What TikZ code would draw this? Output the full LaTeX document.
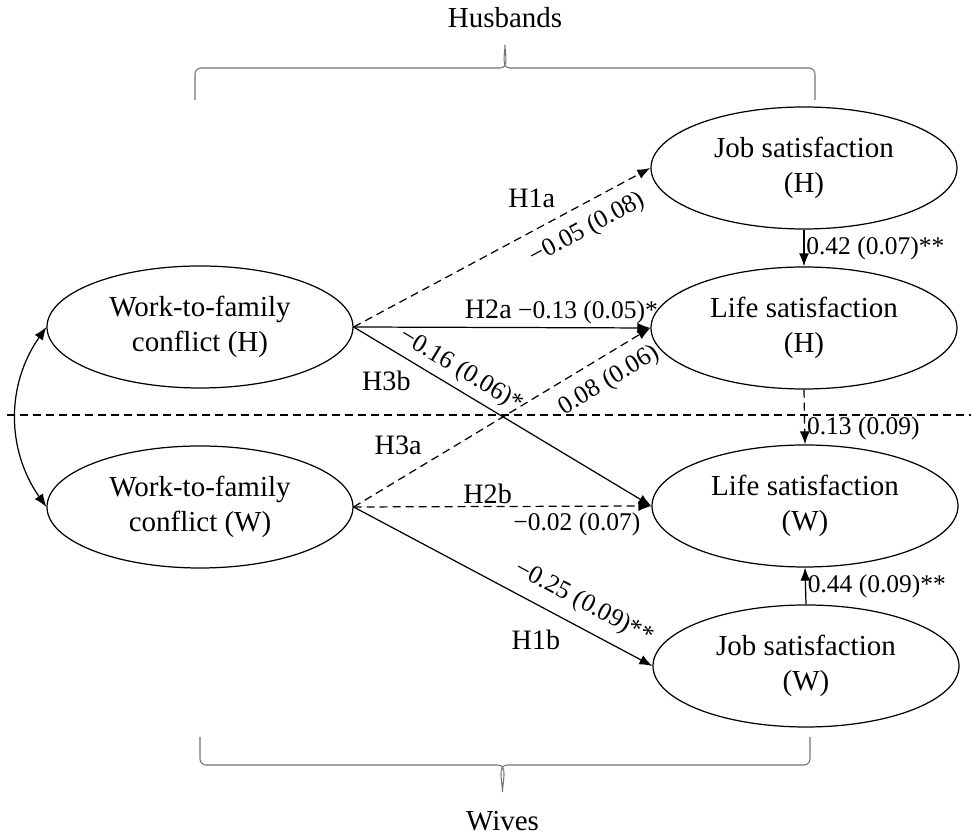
\documentclass[tikz,border=0pt]{standalone}
\usepackage{fontspec}
\setmainfont{Liberation Serif}
\usetikzlibrary{shapes.geometric,arrows.meta}
\begin{document}
\begin{tikzpicture}[>={Latex[length=2.6mm,width=2mm]}, line width=0.7pt, font=\fontsize{16.5}{20}\selectfont]
      \tikzset{latent/.style={draw, ellipse, minimum width=6.12cm, minimum height=2.44cm, inner sep=0pt, align=center},
        coef/.style={font=\fontsize{14.5}{17}\selectfont},
        hyp/.style={font=\fontsize{16}{19}\selectfont},
        dashline/.style={dash pattern=on 1.6mm off 1mm},
        brace/.style={draw=black!55, line width=0.6pt}}
      \useasboundingbox (0,0) rectangle (19.42,16.78);
      \node[latent] (wfcH) at (4.0,10.24) {Work-to-family\\conflict (H)};
      \node[latent] (wfcW) at (4.0,6.64) {Work-to-family\\conflict (W)};
      \node[latent] (jobH) at (16.08,13.42) {Job satisfaction\\(H)};
      \node[latent] (lifeH) at (16.08,10.22) {Life satisfaction\\(H)};
      \node[latent] (lifeW) at (16.1,6.66) {Life satisfaction\\(W)};
      \node[latent] (jobW) at (16.12,3.46) {Job satisfaction\\(W)};
      \node (husb) at (10.1,16.42) {Husbands};
      \node (wives) at (10.05,0.36) {Wives};
      \coordinate (sepL) at (0.14,8.48);
      \coordinate (sepR) at (19.42,8.48);
      \draw[dashline] (sepL) -- (sepR);
      \draw[<->] (wfcH.west) to[bend right=35] (wfcW.west);
      \draw[->, dashline] (wfcH.east) -- (jobH.west)
        node[hyp, pos=0.6, above=0.35cm] {H1a}
        node[coef, pos=0.75, sloped, below=0.12cm] {−0.05 (0.08)};
      \draw[->] (wfcH.east) -- (lifeH.west)
        node[coef, pos=0.7, above, inner sep=2pt] {{\fontsize{16}{19}\selectfont H2a} −0.13 (0.05)*};
      \draw[->] (wfcH.east) -- (lifeW.west)
        node[coef, pos=0.33, sloped, above] {−0.16 (0.06)*}
        node[hyp, pos=0.11, below=0.35cm] {H3b};
      \draw[->, dashline] (wfcW.east) -- (lifeH.west)
        node[coef, pos=0.82, sloped, below=0.12cm] {0.08 (0.06)}
        node[hyp, pos=0.15, above=0.38cm] {H3a};
      \draw[->, dashline] (wfcW.east) -- (lifeW.west)
        node[hyp, pos=0.45, above, inner sep=1pt] {H2b}
        node[coef, pos=0.75, below] {−0.02 (0.07)};
      \draw[->] (wfcW.east) -- (jobW.west)
        node[coef, pos=0.735, sloped, above=0.1cm] {−0.25 (0.09)**}
        node[hyp, pos=0.61, below=0.4cm] {H1b};
      \draw[->] (jobH.south) -- (lifeH.north)
        node[coef, pos=0.5, right, inner sep=1pt] {0.42 (0.07)**};
      \draw[->, dashline] (lifeH.south) -- (lifeW.north)
        node[coef, pos=0.7, right, inner sep=1pt] {0.13 (0.09)};
      \draw[->] (jobW.north) -- (lifeW.south)
        node[coef, pos=0.5, right, inner sep=1pt] {0.44 (0.09)**};
      \draw[brace] (3.9,14.78) -- (3.9,15.30) to[out=90,in=180] (4.02,15.42) -- (10.0,15.42)
        to[out=0,in=-90] (10.1,15.88) to[out=-90,in=180] (10.2,15.42) -- (16.18,15.42)
        to[out=0,in=90] (16.3,15.30) -- (16.3,14.78);
      \draw[brace] (4.0,2.04) -- (4.0,1.60) to[out=-90,in=180] (4.12,1.48) -- (9.95,1.48)
        to[out=0,in=90] (10.05,0.94) to[out=90,in=180] (10.15,1.48) -- (16.08,1.48)
        to[out=0,in=-90] (16.2,1.60) -- (16.2,2.04);
    \end{tikzpicture}
\end{document}
